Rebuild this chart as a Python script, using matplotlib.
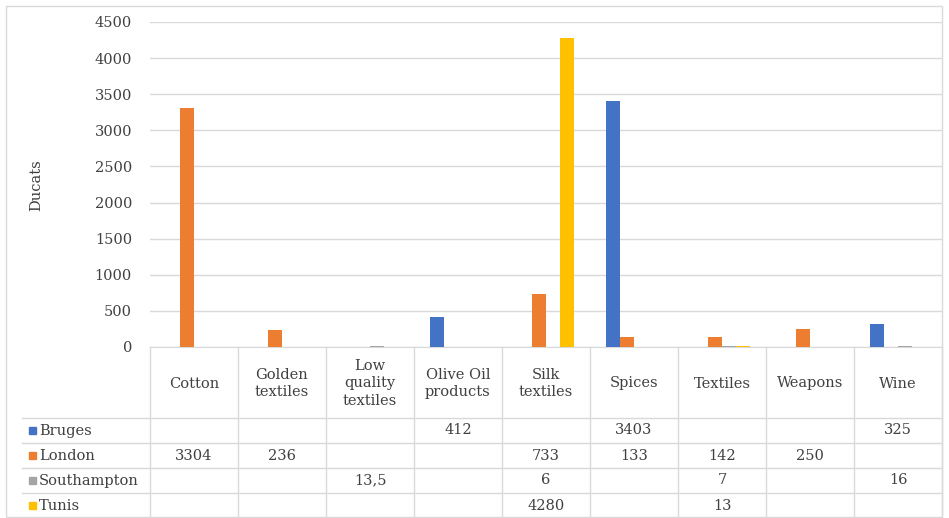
import numpy as np
import matplotlib
matplotlib.use("Agg")
import matplotlib.pyplot as plt
from matplotlib.patches import Rectangle
from matplotlib.transforms import blended_transform_factory

plt.rcParams['font.family'] = ['DejaVu Serif', 'Liberation Serif']

categories = ["Cotton", "Golden\ntextiles", "Low\nquality\ntextiles", "Olive Oil\nproducts",
              "Silk\ntextiles", "Spices", "Textiles", "Weapons", "Wine"]
series_names = ["Bruges", "London", "Southampton", "Tunis"]
bruges = [None, None, None, 412, None, 3403, None, None, 325]
london = [3304, 236, None, None, 733, 133, 142, 250, None]
southampton = [None, None, 13.5, None, 6, None, 7, None, 16]
tunis = [None, None, None, None, 4280, None, 13, None, None]
colors = ["#4472C4", "#ED7D31", "#A5A5A5", "#FFC000"]
y_ticks = [0, 500, 1000, 1500, 2000, 2500, 3000, 3500, 4000, 4500]

all_series = [bruges, london, southampton, tunis]

W, H = 949, 518
FS = 10.5
TXT = "#404040"
fig = plt.figure(figsize=(W / 100, H / 100), dpi=100)
fig.patch.set_facecolor("white")

def fx(px):
    return px / W

def fy(py):
    return 1 - py / H

# outer chart border
fig.add_artist(Rectangle((fx(6), fy(517)), fx(942) - fx(6), fy(6) - fy(517),
                         transform=fig.transFigure, fill=False,
                         edgecolor="#D9D9D9", linewidth=1.0))

left, right, top, bottom = 150, 942, 22, 347
ax = fig.add_axes([fx(left), fy(bottom), fx(right) - fx(left), fy(top) - fy(bottom)])

n = len(categories)
x = np.arange(n)
bw = 0.16
for i, (vals, col) in enumerate(zip(all_series, colors)):
    off = (i - 1.5) * bw
    xs = [x[j] + off for j, v in enumerate(vals) if v is not None]
    hs = [v for v in vals if v is not None]
    ax.bar(xs, hs, width=bw, color=col, zorder=3)

ax.set_xlim(-0.5, n - 0.5)
ax.set_ylim(0, 4500)
ax.set_yticks(y_ticks)
ax.set_yticklabels([str(t) for t in y_ticks], fontsize=FS, color=TXT)
ax.set_xticks([])
ax.tick_params(axis="y", length=0, pad=13)
ax.yaxis.grid(True, color="#D9D9D9", linewidth=1.0, zorder=0)
for s in ["top", "right", "left"]:
    ax.spines[s].set_visible(False)
ax.spines["bottom"].set_color("#D9D9D9")
fig.text(fx(36), fy(185), "Ducats", rotation=90, ha="center", va="center",
         fontsize=FS, color=TXT)

# data table under the plot
tr = blended_transform_factory(ax.transData, fig.transFigure)
row_edges = [347, 418, 443, 468, 493, 518]
line_kw = dict(color="#D9D9D9", linewidth=1.0, clip_on=False)

for k in range(n + 1):
    xb = k - 0.5
    fig.add_artist(plt.Line2D([xb, xb], [fy(row_edges[0]), fy(row_edges[-1])],
                              transform=tr, **line_kw))
for py in row_edges[1:-1]:
    fig.add_artist(plt.Line2D([fx(22), fx(right)], [fy(py), fy(py)],
                              transform=fig.transFigure, **line_kw))

hdr_y = fy((row_edges[0] + row_edges[1]) / 2 + 1)
for j, cat in enumerate(categories):
    fig.text(x[j], hdr_y, cat, transform=tr, ha="center", va="center",
             fontsize=FS, color=TXT, linespacing=1.3)

def fmt(v):
    if v is None:
        return ""
    if float(v).is_integer():
        return str(int(v))
    return str(v).replace(".", ",")

for i, (name, vals, col) in enumerate(zip(series_names, all_series, colors)):
    yc = fy((row_edges[i + 1] + row_edges[i + 2]) / 2)
    fig.add_artist(Rectangle((fx(29), yc - 3.5 / H), 7 / W, 7 / H,
                             transform=fig.transFigure, color=col))
    fig.text(fx(39), yc, name, ha="left", va="center", fontsize=FS, color=TXT)
    for j, v in enumerate(vals):
        if v is not None:
            fig.text(x[j], yc, fmt(v), transform=tr, ha="center", va="center",
                     fontsize=FS, color=TXT)

fig.savefig("out.png", dpi=100)
